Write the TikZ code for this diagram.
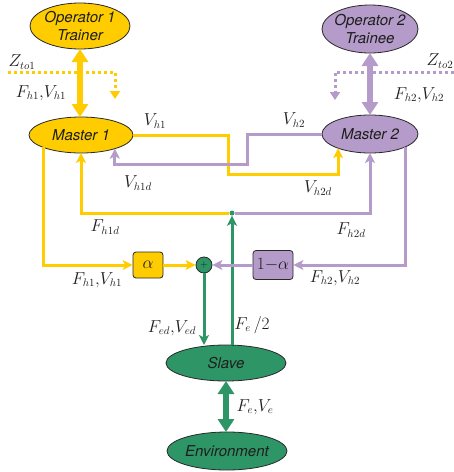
\documentclass[tikz,border=0pt]{standalone}
\usepackage{fontspec}
\setsansfont{TeX Gyre Heros}
\usetikzlibrary{arrows.meta,shapes.geometric}
\definecolor{yel}{RGB}{255,204,0}
\definecolor{pur}{RGB}{181,155,201}
\definecolor{grn}{RGB}{46,150,102}
\definecolor{edge}{RGB}{40,40,40}
\definecolor{ink}{RGB}{30,30,30}
\begin{document}
\begin{tikzpicture}[x=1pt,y=-1pt,
  ell/.style={ellipse, draw=edge, line width=0.8pt, inner sep=0pt, outer sep=0pt},
  etext/.style={font=\fontsize{15}{18}\selectfont\sffamily\itshape, align=center, inner sep=0pt, text=ink},
  gbox/.style={rectangle, rounded corners=3pt, draw=edge, line width=0.8pt, inner sep=0pt, font=\fontsize{18}{20}\selectfont, text=ink},
  wire/.style={line width=3pt},
  tip/.style={-{Stealth[length=10pt,width=10pt,inset=2.5pt]}},
  big/.style={line width=6pt, {Triangle[width=16pt,length=13pt]}-{Triangle[width=16pt,length=13pt]}},
  dots/.style={line width=3pt, dash pattern=on 3pt off 3pt, -{Triangle[width=10pt,length=8pt]}},
  lab/.style={font=\fontsize{16}{18}\selectfont, inner sep=0pt, text=ink}
]
\useasboundingbox (0,0) rectangle (454,472);

% ellipses
\node[ell, fill=yel, minimum width=100pt, minimum height=46pt, label={[etext]center:Operator 1\\Trainer}] (op1) at (80,26) {};
\node[ell, fill=yel, minimum width=104pt, minimum height=36pt, label={[etext]center:Master 1}] (m1) at (81,135) {};
\node[ell, fill=pur, minimum width=96pt, minimum height=48pt, label={[etext]center:Operator 2\\Trainee}] (op2) at (370,29) {};
\node[ell, fill=pur, minimum width=96pt, minimum height=38pt, label={[etext]center:Master 2}] (m2) at (370,134) {};
\node[ell, fill=grn, minimum width=120pt, minimum height=36pt, label={[etext]center:Slave}] (slave) at (226,363) {};
\node[ell, fill=grn, minimum width=120pt, minimum height=38pt, label={[etext]center:Environment}] (env) at (227,451) {};

% gain boxes and sum
\node[gbox, fill=yel, minimum width=30pt, minimum height=26pt] (alpha) at (148,265) {$\alpha$};
\node[gbox, fill=pur, minimum width=40pt, minimum height=29pt] (oma) at (273,265) {${1}{-}{\alpha}$};
\node[circle, draw=edge, line width=0.8pt, fill=grn, minimum size=16pt, inner sep=0pt, font=\fontsize{10}{10}\selectfont, text=ink] (sum) at (204,265) {$+$};
\node[circle, fill=grn, minimum size=5pt, inner sep=0pt] (j) at (232,213) {};

% corner coordinates
\coordinate (z1s) at (8,72);
\coordinate (z1e) at (115,99);
\coordinate (z2s) at (454,72);
\coordinate (z2e) at (335,100);
\coordinate (c1) at (228,174);
\coordinate (c2) at (247,164);

% operator <-> master
\draw[big, yel] (op1.south) -- (op1.south |- m1.north);
\draw[big, pur] (op2.south) -- (op2.south |- m2.north);
\draw[big, grn] (slave.south) -- (slave.south |- env.north);

% dotted impedance lines
\draw[dots, yel] (z1s) -| (z1e);
\draw[dots, pur] (z2s) -| (z2e);

% velocity cross lines
\draw[wire, yel, tip] (m1.east) -| (c1) -| (m2.204);
\draw[wire, pur, tip] (m2.west) -| (c2) -| (m1.338);

% force feedback lines
\draw[wire, yel, tip] (j) -| (m1.south);
\draw[wire, pur, tip] (j) -| (m2.south);
\draw[wire, grn, tip] (j |- slave.north) -- (j);

% outer loops
\draw[wire, yel, tip] (m1.198) |- (alpha.west);
\draw[wire, pur, tip] (m2.340) |- (oma.east);
\draw[wire, yel, tip] (alpha) -- (sum);
\draw[wire, pur, tip] (oma) -- (sum);
\draw[wire, grn, tip] (sum) -- (sum |- slave.north);

% labels
\node[lab] (lz1) at (22,62) {$Z_{to1}$};
\node[lab] (lf1) at (41,93) {$F_{h1}{,}V_{h1}$};
\node[lab] (lz2) at (440,61) {$Z_{to2}$};
\node[lab] (lf2) at (419,95) {$F_{h2}{,}V_{h2}$};
\node[lab] (lv1) at (155,121) {$V_{h1}$};
\node[lab] (lv2) at (294,120) {$V_{h2}$};
\node[lab] (lv1d) at (138,183) {$V_{h1d}$};
\node[lab] (lv2d) at (318,188) {$V_{h2d}$};
\node[lab] (lf1d) at (105,227) {$F_{h1d}$};
\node[lab] (lf2d) at (351,230) {$F_{h2d}$};
\node[lab] (lf1b) at (97,280) {$F_{h1}{,}V_{h1}$};
\node[lab] (lf2b) at (335,278) {$F_{h2}{,}V_{h2}$};
\node[lab] (led) at (172,328) {$F_{ed}{,}V_{ed}$};
\node[lab] (le2) at (252,325) {$F_e\,/2$};
\node[lab] (lev) at (255,407) {$F_e{,}V_e$};
\end{tikzpicture}
\end{document}
